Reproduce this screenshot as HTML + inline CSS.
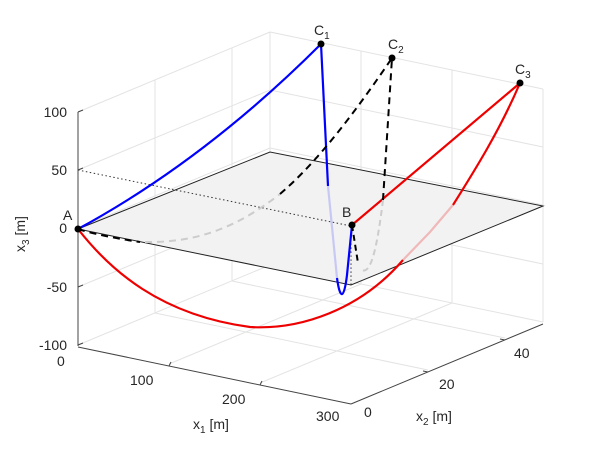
<!DOCTYPE html>
<html><head><style>
body{margin:0;background:#fff}
svg{display:block}
text{font-family:"Liberation Sans",Arial,sans-serif;font-size:14px;fill:#262626}
</style></head><body>
<svg width="600" height="450" viewBox="0 0 600 450">
<rect width="600" height="450" fill="#fff"/>
<g stroke="#e3e3e3" stroke-width="1" fill="none">
<line x1="169" y1="364" x2="361" y2="284"/>
<line x1="260" y1="383" x2="452" y2="303"/>
<line x1="155" y1="313" x2="428" y2="370"/>
<line x1="232" y1="281" x2="505" y2="338"/>
<line x1="78" y1="345" x2="270" y2="265"/>
<line x1="270" y1="265" x2="543" y2="322"/>
<line x1="270" y1="265" x2="270" y2="32"/>
<line x1="543" y1="322" x2="543" y2="89"/>
<line x1="361" y1="284" x2="361" y2="51"/>
<line x1="452" y1="303" x2="452" y2="70"/>
<line x1="270" y1="207" x2="543" y2="264"/>
<line x1="270" y1="148" x2="543" y2="205"/>
<line x1="270" y1="90" x2="543" y2="147"/>
<line x1="270" y1="32" x2="543" y2="89"/>
<line x1="155" y1="313" x2="155" y2="80"/>
<line x1="232" y1="281" x2="232" y2="48"/>
<line x1="78" y1="287" x2="270" y2="207"/>
<line x1="78" y1="228" x2="270" y2="148"/>
<line x1="78" y1="170" x2="270" y2="90"/>
<line x1="78" y1="112" x2="270" y2="32"/>
</g>
<polygon points="78,229 351,285 543,206 270,152" fill="#f2f2f2" stroke="#222" stroke-width="1"/>
<polyline points="78,170 351,226 351,285" fill="none" stroke="#333" stroke-width="1" stroke-dasharray="1.5,2.5"/>
<g stroke="#444" stroke-width="1" fill="none">
<line x1="78" y1="112" x2="78" y2="346"/>
<line x1="78" y1="347" x2="351" y2="404"/>
<line x1="351" y1="404" x2="543" y2="324"/>
<line x1="78" y1="112" x2="83" y2="110"/><line x1="78" y1="170" x2="83" y2="168"/>
<line x1="78" y1="228" x2="83" y2="226"/><line x1="78" y1="287" x2="83" y2="285"/>
<line x1="78" y1="345" x2="83" y2="343"/>
<line x1="169" y1="366" x2="171" y2="362"/><line x1="260" y1="385" x2="262" y2="381"/>
<line x1="428" y1="372" x2="423" y2="371"/><line x1="505" y1="340" x2="500" y2="339"/>
</g>
<path d="M78,229 C110,270 160,315 250,327 C300,330 360,310 403,260" fill="none" stroke="#e00" stroke-width="2.2"/>
<path d="M403,260 L430,232 L453,205" fill="none" stroke="#f0b8b8" stroke-width="2.2"/>
<path d="M453,205 C475,170 500,130 520,83 L352,225" fill="none" stroke="#e00" stroke-width="2.2"/>
<path d="M78,229 Q205,160 321,44 L328,186" fill="none" stroke="#00f" stroke-width="2.2"/>
<path d="M328,186 L337,278" fill="none" stroke="#c8c8f4" stroke-width="2.2"/>
<path d="M337,278 C340,300 344,300 347,275 L352,225" fill="none" stroke="#00f" stroke-width="2.2"/>
<path d="M78,229 Q100,236 140,242" fill="none" stroke="#000" stroke-width="2" stroke-dasharray="7,5"/>
<path d="M145,242 C200,243 240,225 280,194" fill="none" stroke="#ccc" stroke-width="2" stroke-dasharray="7,5"/>
<path d="M280,194 C320,160 360,105 392,58 L383,200" fill="none" stroke="#000" stroke-width="2" stroke-dasharray="7,5"/>
<path d="M383,200 C378,240 372,275 362,270" fill="none" stroke="#ccc" stroke-width="2" stroke-dasharray="6,4"/>
<path d="M352,225 L358,263" fill="none" stroke="#000" stroke-width="2" stroke-dasharray="6,4"/>
<g fill="#000"><circle cx="78" cy="229" r="3.5"/><circle cx="352" cy="225" r="3.5"/>
<circle cx="321" cy="44" r="3.5"/><circle cx="392" cy="58" r="3.5"/><circle cx="520" cy="83" r="3.5"/></g>
<text x="63" y="220">A</text>
<text x="342" y="217">B</text>
<text x="314" y="35">C<tspan font-size="10" dy="4">1</tspan></text>
<text x="388" y="49">C<tspan font-size="10" dy="4">2</tspan></text>
<text x="515" y="74">C<tspan font-size="10" dy="4">3</tspan></text>
<g text-anchor="end">
<text x="67" y="117">100</text><text x="67" y="175">50</text><text x="67" y="233">0</text>
<text x="67" y="292">-50</text><text x="67" y="350">-100</text>
</g>
<text x="57" y="366">0</text>
<text x="130" y="385">100</text>
<text x="222" y="404">200</text>
<text x="316" y="421">300</text>
<text x="364" y="417">0</text>
<text x="439" y="389">20</text>
<text x="514" y="358">40</text>
<text x="193" y="429">x<tspan font-size="10" dy="4">1</tspan><tspan dy="-4"> [m]</tspan></text>
<text x="416" y="421">x<tspan font-size="10" dy="4">2</tspan><tspan dy="-4"> [m]</tspan></text>
<text transform="translate(25,252) rotate(-90)">x<tspan font-size="10" dy="4">3</tspan><tspan dy="-4"> [m]</tspan></text>
</svg>
</body></html>
